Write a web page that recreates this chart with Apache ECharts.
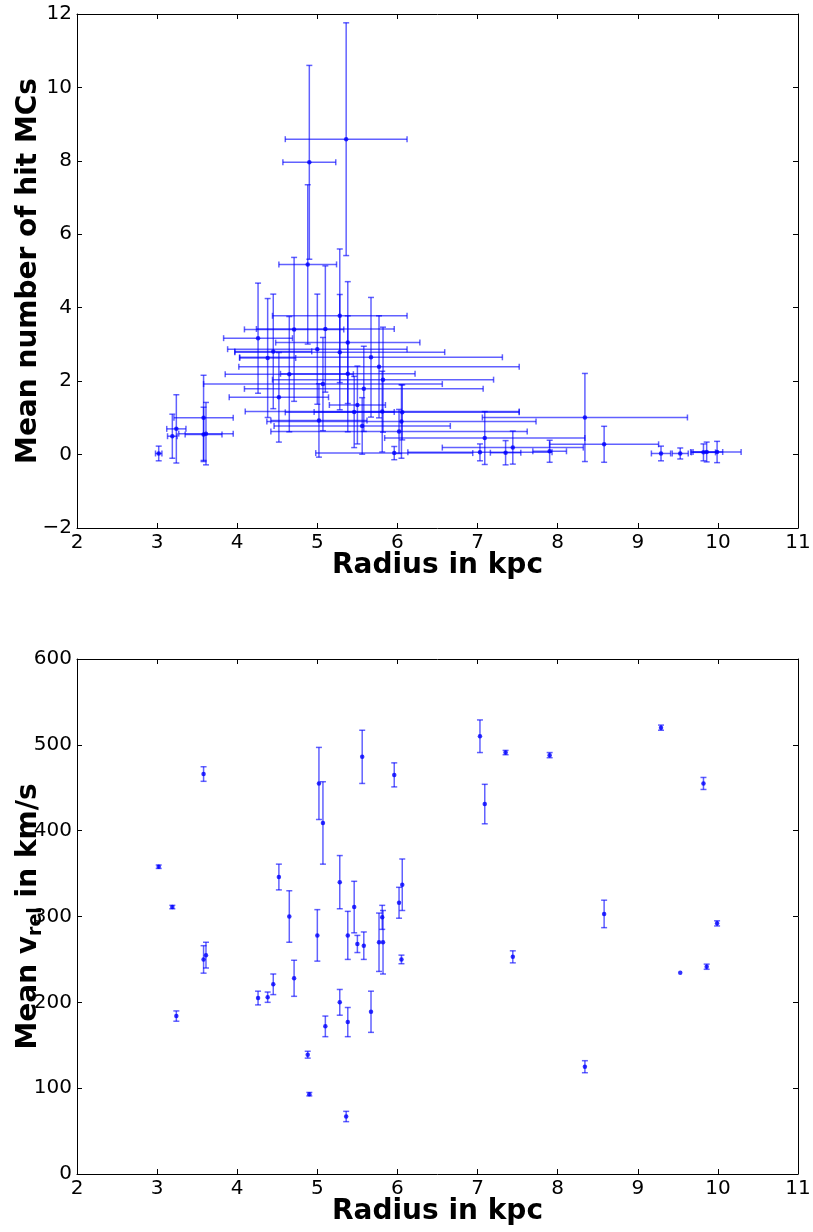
<!DOCTYPE html>
<html>
<head>
<meta charset="utf-8">
<script src="https://cdn.jsdelivr.net/npm/echarts@6/dist/echarts.min.js"></script>
<style>
html,body{margin:0;padding:0;background:#fff;}
#chart{width:813px;height:1232px;}
</style>
</head>
<body>
<div id="chart"></div>
<script>
// Radius (kpc) of each cloud, shared by both panels
const radius = [3.02,3.19,3.24,3.58,3.58,3.61,4.26,4.38,4.45,4.52,4.65,4.71,4.88,4.90,5.00,5.02,5.07,5.10,5.28,5.28,5.38,5.38,5.46,5.50,5.56,5.58,5.67,5.77,5.81,5.82,5.96,6.02,6.06,6.05,7.03,7.09,7.35,7.90,7.44,8.34,8.58,9.29,9.53,9.82,9.86,9.99,5.36];
// Radius error bars (top panel)
const radiusErr = [0.04,0.06,0.12,0.37,0.23,0.34,0.43,0.35,0.48,0.62,0.80,0.62,0.36,0.33,1.12,0.60,1.49,0.86,0.84,1.31,0.90,0.84,0.50,0.35,1.10,1.49,1.64,1.75,1.71,1.38,0.98,1.60,1.46,1.68,0.90,1.25,0.19,0.21,0.88,1.28,0.68,0.12,0.10,0.15,0.20,0.30,0.76];
// Mean number of hit MCs and its error
const hitMean = [0.03,0.50,0.70,1.00,0.55,0.57,3.17,2.63,2.81,1.56,2.19,3.41,5.18,7.96,2.87,0.93,1.92,3.42,3.78,2.79,3.05,2.20,1.16,1.35,0.78,1.79,2.65,2.39,1.17,2.04,0.04,0.63,1.15,0.90,0.06,0.45,0.05,0.09,0.19,1.01,0.28,0.03,0.03,0.06,0.07,0.07,8.59];
const hitErr = [0.20,0.60,0.93,1.16,0.74,0.85,1.50,1.62,1.56,1.22,1.57,1.96,2.17,2.64,1.50,1.00,1.27,1.72,1.82,1.57,1.66,1.58,0.97,1.06,0.77,1.16,1.63,1.39,1.10,1.43,0.18,0.60,0.75,1.00,0.23,0.72,0.33,0.30,0.45,1.20,0.49,0.20,0.15,0.23,0.27,0.29,3.17];
// Mean relative velocity (km/s) and its error
const vrelMean = [358,311,184,466,250,255,205,206,221,346,300,228,139,93,278,455,409,172,340,200,177,278,311,268,486,266,189,270,299,270,465,316,337,250,510,431,491,488,253,125,303,520,234.5,455,241.5,292,67];
const vrelErr = [2,2,6,8.5,16,15,8,6,12,15,30,21,4,2,30,42,48,12,31,15,17,28,30,10,31,16,24,34,14,37,14,18,30,5,19,23,2.5,3,7,7,16,3,0,7,3,3,6];
// Tick settings
const xTicks = {min: 2, max: 11, interval: 1};
const yTopTicks = {min: -2, max: 12, interval: 2};
const yBotTicks = {min: 0, max: 600, interval: 100};

const BAR = 'rgba(0,0,255,0.62)';
const PT = '#0000ff';
const CAP = 3;

function errItem(useX) {
  return function (params, api) {
    const x = api.value(0), y = api.value(1), xe = api.value(2), ye = api.value(3);
    const c = api.coord([x, y]);
    const cx = c[0], cy = c[1];
    const style = {stroke: BAR, lineWidth: 1.5, fill: null};
    const ch = [];
    if (ye > 0) {
      const t = api.coord([x, y + ye])[1];
      const b = api.coord([x, y - ye])[1];
      ch.push({type: 'line', shape: {x1: cx, y1: t, x2: cx, y2: b}, style});
      ch.push({type: 'line', shape: {x1: cx - CAP, y1: t, x2: cx + CAP, y2: t}, style});
      ch.push({type: 'line', shape: {x1: cx - CAP, y1: b, x2: cx + CAP, y2: b}, style});
    }
    if (useX && xe > 0) {
      const l = api.coord([x - xe, y])[0];
      const r = api.coord([x + xe, y])[0];
      ch.push({type: 'line', shape: {x1: l, y1: cy, x2: r, y2: cy}, style});
      ch.push({type: 'line', shape: {x1: l, y1: cy - CAP, x2: l, y2: cy + CAP}, style});
      ch.push({type: 'line', shape: {x1: r, y1: cy - CAP, x2: r, y2: cy + CAP}, style});
    }
    return {type: 'group', children: ch};
  };
}

const FONT = 'DejaVu Sans';
const lineStyle = {color: '#000', width: 1};
const fmt = v => String(v).replace('-', '\u2212');

function xAx(grid, pos, label, name) {
  return Object.assign({
    type: 'value', gridIndex: grid, position: pos,
    axisLine: {show: true, onZero: false, lineStyle},
    axisTick: {show: true, inside: true, length: 5, lineStyle},
    axisLabel: {show: label, fontSize: 20, fontFamily: FONT, color: '#000', margin: 5, showMinLabel: true, showMaxLabel: true},
    splitLine: {show: false},
    name: name || '', nameLocation: 'middle', nameGap: 24, nameMoveOverlap: false,
    nameTextStyle: {fontSize: 28, fontWeight: 'bold', fontFamily: FONT, color: '#000'}
  }, xTicks);
}
function yAx(grid, pos, label, ticks, name, rich, gap) {
  const o = Object.assign({
    type: 'value', gridIndex: grid, position: pos,
    axisLine: {show: true, onZero: false, lineStyle},
    axisTick: {show: true, inside: true, length: 5, lineStyle},
    axisLabel: {show: label, fontSize: 20, fontFamily: FONT, color: '#000', margin: 5, formatter: fmt, showMinLabel: true, showMaxLabel: true},
    splitLine: {show: false},
    name: name || '', nameLocation: 'middle', nameGap: gap || 34, nameMoveOverlap: false,
    nameTextStyle: {fontSize: 28, fontWeight: 'bold', fontFamily: FONT, color: '#000'}
  }, ticks);
  if (rich) o.nameTextStyle.rich = rich;
  return o;
}

const richV = {
  b: {fontSize: 28, fontWeight: 'bold', fontFamily: FONT, color: '#000', lineHeight: 34, verticalAlign: 'middle'},
  s: {fontSize: 19, fontWeight: 'bold', fontFamily: FONT, color: '#000', lineHeight: 34, padding: [14, 0, 0, 0], verticalAlign: 'middle'}
};

const topErr = radius.map((r, i) => [r, hitMean[i], radiusErr[i], hitErr[i]]);
const botErr = radius.map((r, i) => [r, vrelMean[i], 0, vrelErr[i]]);

const chart = echarts.init(document.getElementById('chart'), null, {renderer: 'canvas'});
chart.setOption({
  animation: false,
  backgroundColor: '#fff',
  grid: [
    {left: 77, top: 14, width: 721, height: 514, containLabel: false, outerBoundsMode: 'none'},
    {left: 77, top: 659, width: 721, height: 515, containLabel: false, outerBoundsMode: 'none'}
  ],
  xAxis: [
    xAx(0, 'bottom', true, 'Radius in kpc'),
    xAx(0, 'top', false),
    xAx(1, 'bottom', true, 'Radius in kpc'),
    xAx(1, 'top', false)
  ],
  yAxis: [
    yAx(0, 'left', true, yTopTicks, 'Mean number of hit MCs', null, 34),
    yAx(0, 'right', false, yTopTicks),
    yAx(1, 'left', true, yBotTicks, '{b|Mean v}{s|rel}{b| in km/s}', richV, 31),
    yAx(1, 'right', false, yBotTicks)
  ],
  series: [
    {type: 'custom', xAxisIndex: 0, yAxisIndex: 0, data: topErr, encode: {x: 0, y: 1}, renderItem: errItem(true), silent: true, z: 2},
    {type: 'scatter', xAxisIndex: 0, yAxisIndex: 0, data: radius.map((r, i) => [r, hitMean[i]]), symbolSize: 4.5, itemStyle: {color: PT}, z: 3, silent: true},
    {type: 'custom', xAxisIndex: 2, yAxisIndex: 2, data: botErr, encode: {x: 0, y: 1}, renderItem: errItem(false), silent: true, z: 2},
    {type: 'scatter', xAxisIndex: 2, yAxisIndex: 2, data: radius.map((r, i) => [r, vrelMean[i]]), symbolSize: 4.5, itemStyle: {color: PT}, z: 3, silent: true}
  ]
});
</script>
</body>
</html>
